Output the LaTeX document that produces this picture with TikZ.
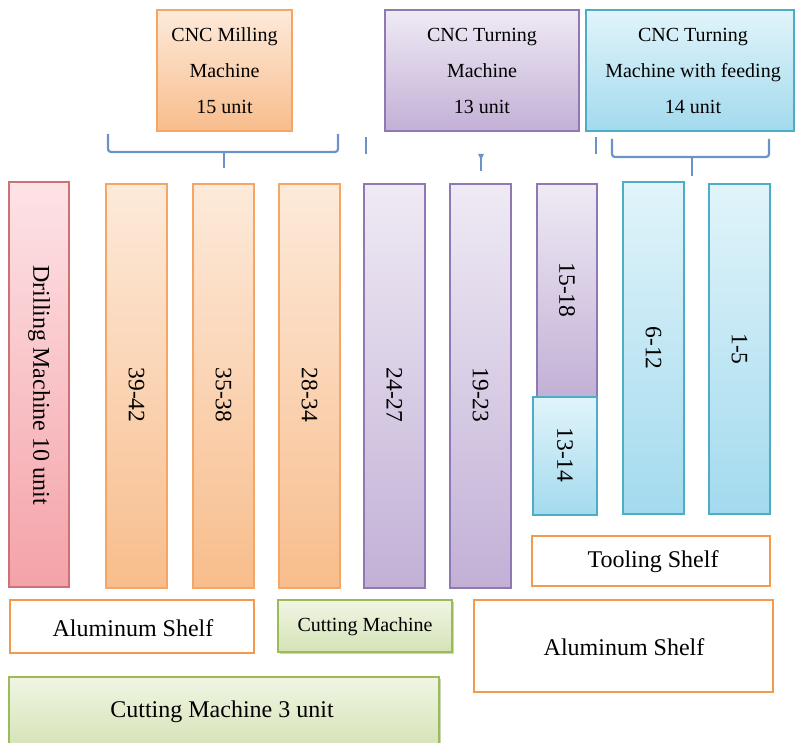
\documentclass[tikz,border=0pt]{standalone}
\usepackage{fontspec}
\setmainfont{Liberation Serif}
\usetikzlibrary{shadows}
\definecolor{orTop}{HTML}{FDEADA}\definecolor{orBot}{HTML}{F8BD8C}\definecolor{orLine}{HTML}{F5A564}
\definecolor{puTop}{HTML}{EFEAF4}\definecolor{puBot}{HTML}{C2B0D6}\definecolor{puLine}{HTML}{9079B2}
\definecolor{blTop}{HTML}{E1F4FA}\definecolor{blBot}{HTML}{A3DAEE}\definecolor{blLine}{HTML}{4DADC6}
\definecolor{piTop}{HTML}{FDE3E6}\definecolor{piBot}{HTML}{F4A2A8}\definecolor{piLine}{HTML}{CC7276}
\definecolor{grTop}{HTML}{F0F5E4}\definecolor{grBot}{HTML}{D5E3B6}\definecolor{grLine}{HTML}{9BBB59}
\definecolor{shelfLine}{HTML}{F39A4C}
\definecolor{braceC}{HTML}{6A94C8}
\tikzset{
  box/.style={rectangle, inner sep=0pt, outer sep=0pt, line width=1.3pt},
  orbox/.style={box, top color=orTop, bottom color=orBot, draw=orLine},
  pubox/.style={box, top color=puTop, bottom color=puBot, draw=puLine},
  blbox/.style={box, top color=blTop, bottom color=blBot, draw=blLine},
  pibox/.style={box, top color=piTop, bottom color=piBot, draw=piLine},
  grbox/.style={box, top color=grTop, bottom color=grBot, draw=grLine,
     drop shadow={opacity=0.35, shadow xshift=1.5pt, shadow yshift=-1.5pt, fill=grLine!70!black}},
  shelf/.style={box, fill=white, draw=shelfLine, line width=2.8pt},
  toptext/.style={align=center, font=\fontsize{20}{36}\selectfont},
  coltext/.style={rotate=-90, font=\fontsize{23.5}{26}\selectfont, inner sep=0pt},
  bigtext/.style={font=\fontsize{24}{28}\selectfont, inner sep=0pt},
  bracepath/.style={draw=braceC, line width=2.2pt, rounded corners=3pt},
}
\begin{document}
\begin{tikzpicture}[x=1pt, y=-1pt]
\useasboundingbox (0,0) rectangle (795,743);
% top boxes
\node[orbox, minimum width=135pt, minimum height=121pt] (mill) at (224.5,70.5) {};
\node[toptext] (milltxt) at (224.5,71) {CNC Milling\\Machine\\15 unit};
\node[pubox, minimum width=194pt, minimum height=121pt] (turn) at (482,70.5) {};
\node[toptext] (turntxt) at (482,71) {CNC Turning\\Machine\\13 unit};
\node[blbox, minimum width=208pt, minimum height=121pt] (feed) at (690,70.5) {};
\node[toptext] (feedtxt) at (693,71) {CNC Turning\\Machine with feeding\\14 unit};
% braces
\coordinate (mbL) at (108,134); \coordinate (mbR) at (338,134); \coordinate (mbT) at (224,168);
\draw[bracepath] (mbL) -- (108,152) -- (224,152) -- (338,152) -- (mbR);
\draw[draw=braceC, line width=2.2pt] (224,152) -- (mbT);
\coordinate (tk1a) at (365.5,137); \coordinate (tk1b) at (365.5,154);
\draw[draw=braceC, line width=2pt] (tk1a) -- (tk1b);
\coordinate (tbA) at (481,154); \coordinate (tbB) at (481,171);
\draw[draw=braceC, line width=2pt] (tbA) -- (tbB);
\fill[braceC] (478,154) -- (484,154) -- (481,160) -- cycle;
\coordinate (tk2a) at (596,137); \coordinate (tk2b) at (596,154);
\draw[draw=braceC, line width=2pt] (tk2a) -- (tk2b);
\coordinate (fbL) at (612,139); \coordinate (fbR) at (769,139); \coordinate (fbT) at (692,176);
\draw[bracepath] (fbL) -- (612,157) -- (692,157) -- (769,157) -- (fbR);
\draw[draw=braceC, line width=2.2pt] (692,157) -- (fbT);
% columns
\node[pibox, minimum width=60pt, minimum height=405pt] (drill) at (39,384.5) {};
\node[coltext, font=\fontsize{24}{26}\selectfont] (drilltxt) at (39,385) {Drilling Machine 10 unit};
\node[orbox, minimum width=61pt, minimum height=404pt] (c39) at (136.5,386) {};
\node[coltext] (t39) at (136.5,395) {39-42};
\node[orbox, minimum width=61pt, minimum height=404pt] (c35) at (223.5,386) {};
\node[coltext] (t35) at (223.5,395) {35-38};
\node[orbox, minimum width=61pt, minimum height=404pt] (c28) at (309.5,386) {};
\node[coltext] (t28) at (309.5,395) {28-34};
\node[pubox, minimum width=61pt, minimum height=404pt] (c24) at (394.5,386) {};
\node[coltext] (t24) at (394.5,395) {24-27};
\node[pubox, minimum width=61pt, minimum height=404pt] (c19) at (480.5,386) {};
\node[coltext] (t19) at (480.5,395) {19-23};
\node[pubox, minimum width=60pt, minimum height=214pt] (c15) at (567,291) {};
\node[coltext] (t15) at (567,290) {15-18};
\node[blbox, minimum width=64pt, minimum height=118pt] (c13) at (565,456) {};
\node[coltext] (t13) at (565,455) {13-14};
\node[blbox, minimum width=61pt, minimum height=332pt] (c6) at (653.5,348) {};
\node[coltext] (t6) at (653.5,348) {6-12};
\node[blbox, minimum width=61pt, minimum height=330pt] (c1) at (739.5,349) {};
\node[coltext] (t1) at (739.5,349) {1-5};
% bottom
\node[shelf, minimum width=238pt, minimum height=50pt] (tool) at (651,561) {};
\node[bigtext] (tooltxt) at (653,562) {Tooling Shelf};
\node[shelf, minimum width=244pt, minimum height=53pt] (alL) at (132,626.5) {};
\node[bigtext] (alLtxt) at (133,628) {Aluminum Shelf};
\node[grbox, minimum width=174pt, minimum height=52pt] (cutS) at (365,626) {};
\node[bigtext, font=\fontsize{20}{24}\selectfont] (cutStxt) at (365,627) {Cutting Machine};
\node[shelf, minimum width=299pt, minimum height=92pt] (alR) at (623.5,646) {};
\node[bigtext] (alRtxt) at (624,647) {Aluminum Shelf};
\node[grbox, minimum width=430pt, minimum height=70pt] (cut3) at (224,712) {};
\node[bigtext] (cut3txt) at (222,712) {Cutting Machine 3 unit};
\end{tikzpicture}
\end{document}
